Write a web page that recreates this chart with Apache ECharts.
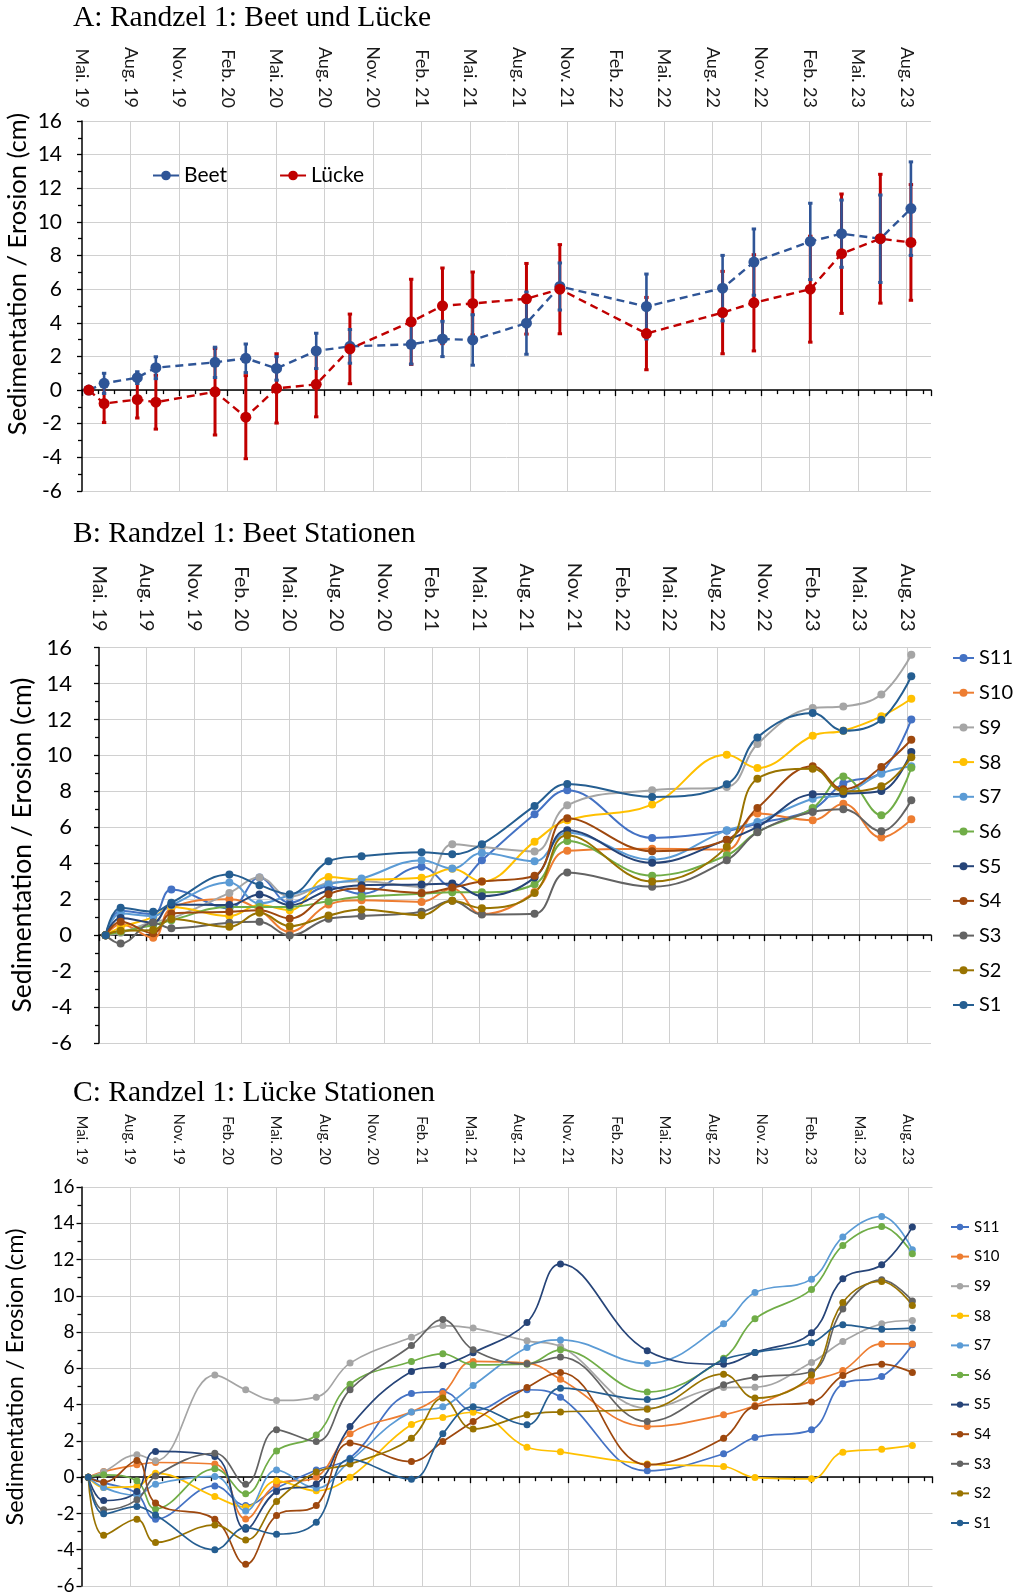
<!DOCTYPE html>
<html>
<head>
<meta charset="utf-8">
<script src="https://cdn.jsdelivr.net/npm/echarts@6/dist/echarts.min.js"></script>
<style>
  html, body { margin: 0; padding: 0; background: #fff; }
  .panel { position: absolute; left: 0; width: 1015px; }
  #panelA { top: 0; height: 505px; }
  #panelB { top: 505px; height: 555px; }
  #panelC { top: 1060px; height: 536px; }
</style>
</head>
<body>
<div id="panelA" class="panel"></div>
<div id="panelB" class="panel"></div>
<div id="panelC" class="panel"></div>
<script>
// Survey dates (same for all panels)
const sampleDates = [
  '2019-05-14', '2019-06-12', '2019-08-14', '2019-09-18', '2020-01-08', '2020-03-05',
  '2020-05-02', '2020-07-16', '2020-09-18', '2021-01-12', '2021-03-10', '2021-05-06',
  '2021-08-16', '2021-10-18', '2022-03-29', '2022-08-20', '2022-10-18', '2023-02-02',
  '2023-03-31', '2023-06-12', '2023-08-09'
];

// Quarterly tick labels, starting May 2019
const tickLabels = [
  'Mai. 19', 'Aug. 19', 'Nov. 19', 'Feb. 20', 'Mai. 20', 'Aug. 20', 'Nov. 20', 'Feb. 21', 'Mai. 21',
  'Aug. 21', 'Nov. 21', 'Feb. 22', 'Mai. 22', 'Aug. 22', 'Nov. 22', 'Feb. 23', 'Mai. 23', 'Aug. 23'
];

// Panel A: mean and error (cm)
const beetMean   = [0, 0.4, 0.74, 1.33, 1.65, 1.89, 1.29, 2.33, 2.6, 2.72, 3.04, 2.98, 3.98, 6.16, 4.97, 6.06, 7.61, 8.84, 9.3, 9.0, 10.79];
const beetErr    = [0, 0.6, 0.35, 0.65, 0.9, 0.85, 0.7, 1.05, 1.0, 1.17, 1.05, 1.5, 1.85, 1.4, 1.93, 1.95, 1.97, 2.27, 2.0, 2.6, 2.78];
const lueckeMean = [0, -0.8, -0.56, -0.72, -0.1, -1.61, 0.1, 0.34, 2.45, 4.06, 5.01, 5.15, 5.43, 6.0, 3.36, 4.61, 5.19, 6.0, 8.11, 9.0, 8.78];
const lueckeErr  = [0, 1.13, 1.1, 1.6, 2.57, 2.47, 2.06, 1.93, 2.07, 2.53, 2.25, 1.87, 2.1, 2.65, 2.15, 2.45, 2.86, 3.15, 3.55, 3.83, 3.44];

// Panel B: Beet stations (cm)
const beetS1  = [0, 1.52, 1.3, 1.8, 3.37, 2.78, 2.28, 4.11, 4.39, 4.61, 4.5, 5.06, 7.19, 8.41, 7.69, 8.39, 11.0, 12.35, 11.37, 11.98, 14.4];
const beetS2  = [0, 0.24, 0.28, 0.9, 0.46, 1.24, 0.5, 1.09, 1.43, 1.11, 1.91, 1.5, 2.35, 5.56, 2.98, 4.91, 8.7, 9.26, 8.0, 8.28, 9.9];
const beetS3  = [0, -0.46, 0.69, 0.39, 0.69, 0.74, -0.02, 0.91, 1.06, 1.3, 1.91, 1.15, 1.19, 3.48, 2.69, 4.17, 5.72, 6.85, 7.0, 5.78, 7.5];
const beetS4  = [0, 0.74, 0.1, 1.2, 1.3, 1.39, 0.93, 2.28, 2.59, 2.35, 2.65, 2.98, 3.31, 6.5, 4.67, 5.31, 7.07, 9.39, 8.11, 9.35, 10.87];
const beetS5  = [0, 0.96, 0.7, 1.7, 1.67, 2.26, 1.67, 2.5, 2.78, 2.81, 2.87, 2.17, 3.2, 5.83, 4.02, 5.3, 6.02, 7.83, 7.87, 8.02, 10.19];
const beetS6  = [0, 0.19, 0.56, 0.83, 1.57, 1.57, 1.57, 1.89, 2.13, 2.3, 2.39, 2.39, 2.83, 5.24, 3.31, 4.44, 5.74, 7.07, 8.83, 6.67, 9.31];
const beetS7  = [0, 1.2, 1.06, 1.67, 2.93, 1.76, 2.22, 2.83, 3.15, 4.17, 3.7, 4.57, 4.11, 5.69, 4.2, 5.83, 6.3, 7.59, 7.83, 8.98, 9.39];
const beetS8  = [0, 0.43, 1.0, 1.57, 1.06, 1.67, 1.39, 3.24, 3.09, 3.19, 3.69, 2.98, 5.2, 6.39, 7.26, 10.04, 9.3, 11.09, 11.37, 12.17, 13.15];
const beetS9  = [0, 0.13, 0.74, 0.93, 2.35, 3.2, 2.13, 2.9, 3.0, 2.69, 5.06, 4.9, 4.65, 7.22, 8.06, 8.24, 10.63, 12.63, 12.72, 13.39, 15.6];
const beetS10 = [0, 0.6, -0.15, 1.5, 2.0, 1.39, 0.19, 1.7, 1.94, 1.85, 2.6, 1.17, 2.4, 4.69, 4.81, 4.76, 6.76, 6.39, 7.31, 5.43, 6.44];
const beetS11 = [0, 1.35, 1.17, 2.54, 1.5, 3.2, 1.8, 2.7, 2.3, 3.81, 2.69, 4.17, 6.72, 8.06, 5.41, 5.8, 6.2, 7.0, 8.43, 9.07, 12.0];

// Panel C: Lücke stations (cm)
const lueckeS1  = [0, -2.02, -1.62, -2.08, -4.0, -2.78, -3.14, -2.48, 0.99, -0.11, 2.39, 3.88, 2.89, 4.91, 4.28, 6.47, 6.88, 7.41, 8.4, 8.16, 8.22];
const lueckeS2  = [0, -3.2, -2.32, -3.6, -2.63, -3.46, -1.34, 0.28, 0.72, 2.15, 4.36, 2.65, 3.44, 3.6, 3.75, 5.68, 4.36, 5.64, 9.63, 10.79, 9.47];
const lueckeS3  = [0, -1.8, -1.25, 0.07, 1.32, -0.39, 2.61, 1.97, 4.82, 7.26, 8.69, 7.02, 6.25, 6.62, 3.07, 5.09, 5.51, 5.83, 9.28, 10.88, 9.72];
const lueckeS4  = [0, -0.28, 0.92, -1.43, -2.32, -4.8, -2.11, -1.56, 1.88, 0.86, 1.97, 3.07, 4.94, 5.77, 0.68, 2.15, 3.9, 4.14, 5.61, 6.23, 5.77];
const lueckeS5  = [0, -1.29, -0.79, 1.42, 1.14, -2.87, -0.79, -0.37, 2.79, 5.83, 6.16, 6.86, 8.53, 11.76, 6.97, 6.23, 6.88, 7.96, 10.94, 11.71, 13.79];
const lueckeS6  = [0, 0.13, -0.2, -1.75, 0.46, -0.92, 1.45, 2.33, 5.13, 6.38, 6.8, 6.19, 6.23, 7.02, 4.69, 6.56, 8.73, 10.35, 12.78, 13.82, 12.32];
const lueckeS7  = [0, -0.57, -1.0, -0.39, 0.04, -1.86, 0.39, -0.6, 0.9, 3.6, 3.88, 5.06, 7.15, 7.57, 6.27, 8.46, 10.18, 10.92, 13.25, 14.38, 12.54];
const lueckeS8  = [0, -0.57, -0.51, 0.22, -1.07, -1.65, -0.2, -0.75, 0.0, 2.9, 3.29, 3.58, 1.65, 1.4, 0.72, 0.59, -0.02, -0.09, 1.38, 1.54, 1.75];
const lueckeS9  = [0, 0.3, 1.23, 0.9, 5.63, 4.82, 4.23, 4.41, 6.29, 7.72, 8.36, 8.22, 7.52, 7.2, 3.8, 4.94, 4.96, 6.32, 7.48, 8.46, 8.64];
const lueckeS10 = [0, 0.31, 0.68, 0.81, 0.72, -2.3, -0.39, 0.0, 2.39, 3.6, 4.61, 6.38, 6.29, 5.4, 2.79, 3.44, 3.95, 5.31, 5.88, 7.35, 7.35];
const lueckeS11 = [0, -0.3, -0.9, -2.32, -0.48, -1.56, -0.6, 0.4, 1.05, 4.61, 4.72, 3.66, 4.82, 4.41, 0.35, 1.29, 2.19, 2.61, 5.15, 5.55, 7.3];

// ---- helpers ----
// fractional months since 1 May 2019
function monthsSinceStart(d) {
  const [y, m, day] = d.split('-').map(Number);
  const daysInMonth = new Date(y, m, 0).getDate();
  return (y - 2019) * 12 + (m - 5) + (day - 1) / daysInMonth;
}
const xPos = sampleDates.map(monthsSinceStart);
const xMax = 52.5;
const quarterTicks = tickLabels.map((_, i) => i * 3);
const pairs = arr => xPos.map((x, i) => [x, arr[i]]);

const FONT = 'Lato, "Open Sans", sans-serif';
const SERIF = '"Liberation Serif", "Times New Roman", serif';
const GRID_COLOR = '#d0d0d0';

const stationColors = {
  S11: '#4472C4', S10: '#ED7D31', S9: '#A5A5A5', S8: '#FFC000', S7: '#5B9BD5', S6: '#70AD47',
  S5: '#264478', S4: '#9E480E', S3: '#636363', S2: '#997300', S1: '#255E91'
};

function axes(p) {
  return {
    xAxis: [
      {
        type: 'value', position: 'top', min: 0, max: xMax, interval: 3,
        axisLine: { show: false, onZero: false }, axisTick: { show: false }, splitLine: { show: false },
        axisLabel: {
          rotate: 90, margin: p.xLabelMargin, fontFamily: FONT, fontSize: p.xLabelSize, color: '#1a1a1a',
          showMaxLabel: false, formatter: v => tickLabels[Math.round(v / 3)] || ''
        }
      },
      {
        type: 'value', position: 'bottom', min: 0, max: xMax, interval: 3, z: 1,
        axisLine: { onZero: true, lineStyle: { color: '#000', width: 1.5 } },
        axisTick: { show: true, length: 6, lineStyle: { color: '#000', width: 1.3 } },
        minorTick: { show: true, splitNumber: 3, length: 4, lineStyle: { color: '#000', width: 1.3 } },
        axisLabel: { show: false }, splitLine: { show: false }
      }
    ],
    yAxis: {
      type: 'value', min: -6, max: 16, interval: 2, z: 1,
      axisLine: { show: true, onZero: false, lineStyle: { color: '#000', width: 1.5 } },
      axisTick: { show: true, length: 5, lineStyle: { color: '#000', width: 1.3 } },
      minorTick: { show: true, splitNumber: 2, length: 4, lineStyle: { color: '#000', width: 1.3 } },
      splitLine: { show: true, lineStyle: { color: GRID_COLOR, width: 1 } },
      axisLabel: { fontFamily: FONT, fontSize: p.yLabelSize, color: '#000', margin: p.yLabelMargin }
    }
  };
}

// vertical quarterly grid lines (no line at the right plot edge)
function verticalGrid() {
  return {
    type: 'line', name: '_grid', xAxisIndex: 1, data: [], silent: true,
    markLine: {
      silent: true, z: 0.5, symbol: ['none', 'none'], label: { show: false },
      lineStyle: { color: GRID_COLOR, width: 1, type: 'solid' },
      emphasis: { disabled: true }, animation: false,
      data: quarterTicks.filter(v => v > 0).map(v => ({ xAxis: v }))
    }
  };
}

function yTitle(x, y, size) {
  return {
    type: 'text', x: x, y: y, rotation: Math.PI / 2, silent: true,
    style: { text: 'Sedimentation / Erosion (cm)', font: size + 'px ' + FONT, fill: '#000', align: 'center', verticalAlign: 'middle' }
  };
}

function panelTitle(text, top) {
  return {
    text: text, left: 73, top: top, padding: 0,
    textStyle: { fontFamily: SERIF, fontSize: 29.5, fontWeight: 'normal', color: '#000' }
  };
}

function errorBars(name, mean, err, color, width) {
  return {
    type: 'custom', name: name, xAxisIndex: 1, silent: true, z: 2,
    data: xPos.map((x, i) => [x, mean[i] - err[i], mean[i] + err[i]]),
    encode: { x: 0, y: [1, 2] },
    renderItem: function (params, api) {
      const x = api.value(0), lo = api.value(1), hi = api.value(2);
      if (hi - lo <= 0) return null;
      const a = api.coord([x, lo]), b = api.coord([x, hi]);
      const cap = 2.2;
      const st = { stroke: color, lineWidth: width };
      return {
        type: 'group', children: [
          { type: 'line', shape: { x1: a[0], y1: a[1], x2: b[0], y2: b[1] }, style: st },
          { type: 'line', shape: { x1: b[0] - cap, y1: b[1], x2: b[0] + cap, y2: b[1] }, style: { stroke: color, lineWidth: 3 } },
          { type: 'line', shape: { x1: a[0] - cap, y1: a[1], x2: a[0] + cap, y2: a[1] }, style: { stroke: color, lineWidth: 3 } }
        ]
      };
    }
  };
}

function meanLine(name, mean, color) {
  return {
    type: 'line', name: name, xAxisIndex: 1, data: pairs(mean), z: 3,
    symbol: 'circle', symbolSize: 11, showAllSymbol: true,
    lineStyle: { color: color, width: 2.4, type: [8, 5] },
    itemStyle: { color: color }
  };
}

function stationSeries(list, lineWidth, symbolSize) {
  return list.map(([name, arr]) => ({
    type: 'line', name: name, xAxisIndex: 1, data: pairs(arr), z: 3,
    smooth: 0.4, symbol: 'circle', symbolSize: symbolSize, showAllSymbol: true,
    lineStyle: { color: stationColors[name], width: lineWidth },
    itemStyle: { color: stationColors[name] }
  }));
}

// ---- Panel A ----
const chartA = echarts.init(document.getElementById('panelA'), null, { renderer: 'canvas' });
chartA.setOption(Object.assign({
  animation: false,
  title: panelTitle('A: Randzel 1: Beet und Lücke', 3),
  grid: { left: 82, top: 121, width: 849, height: 370 },
  legend: {
    data: ['Beet', 'Lücke'], left: 152, top: 165, padding: 0, itemGap: 52,
    itemWidth: 26, itemHeight: 12, selectedMode: false,
    lineStyle: { type: 'solid' },
    textStyle: { fontFamily: FONT, fontSize: 21, color: '#000' }
  },
  graphic: [yTitle(18, 274, 25.5)],
  series: [
    verticalGrid(),
    errorBars('LückeFehler', lueckeMean, lueckeErr, '#C00000', 3),
    errorBars('BeetFehler', beetMean, beetErr, '#2F5597', 2.6),
    meanLine('Beet', beetMean, '#2F5597'),
    meanLine('Lücke', lueckeMean, '#C00000')
  ]
}, axes({ xLabelSize: 18, xLabelMargin: 13, yLabelSize: 21, yLabelMargin: 20 })));

// ---- Panel B ----
const beetList = [
  ['S11', beetS11], ['S10', beetS10], ['S9', beetS9], ['S8', beetS8], ['S7', beetS7], ['S6', beetS6],
  ['S5', beetS5], ['S4', beetS4], ['S3', beetS3], ['S2', beetS2], ['S1', beetS1]
];
const chartB = echarts.init(document.getElementById('panelB'), null, { renderer: 'canvas' });
chartB.setOption(Object.assign({
  animation: false,
  title: panelTitle('B: Randzel 1: Beet Stationen', 14),
  grid: { left: 99, top: 142.5, width: 832, height: 395.5 },
  legend: {
    data: beetList.map(d => d[0]), orient: 'vertical', left: 952, top: 143, padding: 0,
    itemGap: 14.7, itemWidth: 21, itemHeight: 10, selectedMode: false,
    textStyle: { fontFamily: FONT, fontSize: 20, color: '#000' }
  },
  graphic: [yTitle(22, 340, 26.5)],
  series: [verticalGrid()].concat(stationSeries(beetList, 2, 8))
}, axes({ xLabelSize: 20, xLabelMargin: 16, yLabelSize: 22, yLabelMargin: 27 })));

// ---- Panel C ----
const lueckeList = [
  ['S11', lueckeS11], ['S10', lueckeS10], ['S9', lueckeS9], ['S8', lueckeS8], ['S7', lueckeS7], ['S6', lueckeS6],
  ['S5', lueckeS5], ['S4', lueckeS4], ['S3', lueckeS3], ['S2', lueckeS2], ['S1', lueckeS1]
];
const chartC = echarts.init(document.getElementById('panelC'), null, { renderer: 'canvas' });
chartC.setOption(Object.assign({
  animation: false,
  title: panelTitle('C: Randzel 1: Lücke Stationen', 18),
  grid: { left: 81.5, top: 127, width: 851, height: 399 },
  legend: {
    data: lueckeList.map(d => d[0]), orient: 'vertical', left: 950, top: 159.5, padding: 0,
    itemGap: 14.6, itemWidth: 18, itemHeight: 8, selectedMode: false,
    textStyle: { fontFamily: FONT, fontSize: 15, color: '#000' }
  },
  graphic: [yTitle(15, 317, 23.5)],
  series: [verticalGrid()].concat(stationSeries(lueckeList, 1.7, 7))
}, axes({ xLabelSize: 15, xLabelMargin: 22, yLabelSize: 19, yLabelMargin: 7 })));
</script>
</body>
</html>
